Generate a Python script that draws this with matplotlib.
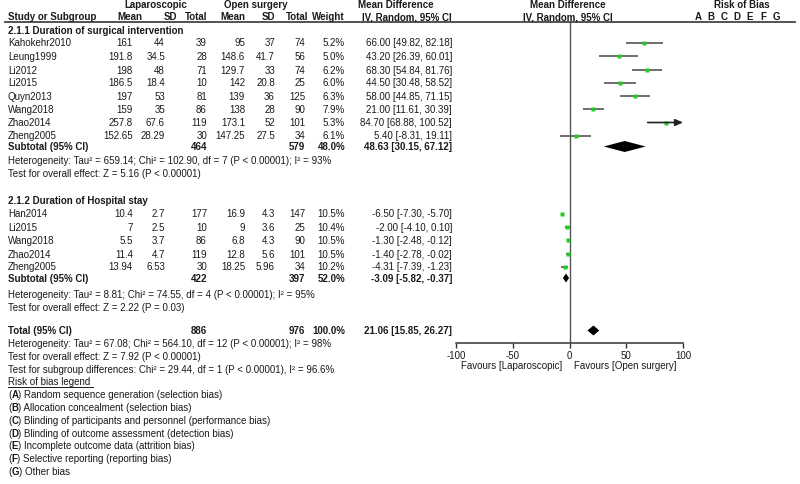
import matplotlib
matplotlib.use("Agg")
from matplotlib import pyplot as plt

plt.rcParams['font.family'] = ['Liberation Sans', 'DejaVu Sans']

# subgroup 2.1.1 duration of surgical intervention
studies1 = ["Kahokehr2010", "Leung1999", "Li2012", "Li2015", "Quyn2013", "Wang2018", "Zhao2014", "Zheng2005"]
lap_mean1 = [161, 191.8, 198, 186.5, 197, 159, 257.8, 152.65]
lap_sd1 = [44, 34.5, 48, 18.4, 53, 35, 67.6, 28.29]
lap_n1 = [39, 28, 71, 10, 81, 86, 119, 30]
open_mean1 = [95, 148.6, 129.7, 142, 139, 138, 173.1, 147.25]
open_sd1 = [37, 41.7, 33, 20.8, 36, 28, 52, 27.5]
open_n1 = [74, 56, 74, 25, 125, 90, 101, 34]
weight1 = [5.2, 5.0, 6.2, 6.0, 6.3, 7.9, 5.3, 6.1]
md1 = [66.00, 43.20, 68.30, 44.50, 58.00, 21.00, 84.70, 5.40]
lo1 = [49.82, 26.39, 54.84, 30.48, 44.85, 11.61, 68.88, -8.31]
hi1 = [82.18, 60.01, 81.76, 58.52, 71.15, 30.39, 100.52, 19.11]
sub1 = [48.63, 30.15, 67.12]
sub1_n = [464, 579]
sub1_w = 48.0

# subgroup 2.1.2 duration of hospital stay
studies2 = ["Han2014", "Li2015", "Wang2018", "Zhao2014", "Zheng2005"]
lap_mean2 = [10.4, 7, 5.5, 11.4, 13.94]
lap_sd2 = [2.7, 2.5, 3.7, 4.7, 6.53]
lap_n2 = [177, 10, 86, 119, 30]
open_mean2 = [16.9, 9, 6.8, 12.8, 18.25]
open_sd2 = [4.3, 3.6, 4.3, 5.6, 5.96]
open_n2 = [147, 25, 90, 101, 34]
weight2 = [10.5, 10.4, 10.5, 10.5, 10.2]
md2 = [-6.50, -2.00, -1.30, -1.40, -4.31]
lo2 = [-7.30, -4.10, -2.48, -2.78, -7.39]
hi2 = [-5.70, 0.10, -0.12, -0.02, -1.23]
sub2 = [-3.09, -5.82, -0.37]
sub2_n = [422, 397]
sub2_w = 52.0

total = [21.06, 15.85, 26.27]
total_n = [886, 976]
total_w = 100.0

stats1 = ["Heterogeneity: Tau\u00b2 = 659.14; Chi\u00b2 = 102.90, df = 7 (P < 0.00001); I\u00b2 = 93%",
          "Test for overall effect: Z = 5.16 (P < 0.00001)"]
stats2 = ["Heterogeneity: Tau\u00b2 = 8.81; Chi\u00b2 = 74.55, df = 4 (P < 0.00001); I\u00b2 = 95%",
          "Test for overall effect: Z = 2.22 (P = 0.03)"]
stats_total = ["Heterogeneity: Tau\u00b2 = 67.08; Chi\u00b2 = 564.10, df = 12 (P < 0.00001); I\u00b2 = 98%",
               "Test for overall effect: Z = 7.92 (P < 0.00001)",
               "Test for subgroup differences: Chi\u00b2 = 29.44, df = 1 (P < 0.00001), I\u00b2 = 96.6%"]
bias_letters = ["A", "B", "C", "D", "E", "F", "G"]
bias_legend = ["Random sequence generation (selection bias)",
               "Allocation concealment (selection bias)",
               "Blinding of participants and personnel (performance bias)",
               "Blinding of outcome assessment (detection bias)",
               "Incomplete outcome data (attrition bias)",
               "Selective reporting (reporting bias)",
               "Other bias"]
xticks = [-100, -50, 0, 50, 100]

# layout (pixel rows)
W, H = 800, 485
rows1 = [43.5, 57, 70.5, 83.5, 97, 110, 123.5, 136.5]
rows2 = [214.5, 228, 241, 254.5, 267.5]
FS = 7
TC = '#1a1a1a'

fig = plt.figure(figsize=(W / 100, H / 100), dpi=100)
bg = fig.add_axes([0, 0, 1, 1])
bg.set_xlim(0, W)
bg.set_ylim(H, 0)
bg.axis('off')


def t(x, y, s, ha='left', bold=False, **kw):
    return bg.text(x, y, s, ha=ha, va='center', fontsize=FS, color=TC,
                   fontweight='bold' if bold else 'normal', **kw)


def after(prev, s, bold=False):
    # continue a line right after the previous text piece
    return bg.annotate(s, xy=(1, 0), xycoords=prev, ha='left', va='bottom',
                       fontsize=FS, color=TC, fontweight='bold' if bold else 'normal')


def fmt(v):
    return '{:g}'.format(v)


def ci(m, l, h):
    return '{:.2f} [{:.2f}, {:.2f}]'.format(m, l, h)


# header
t(156, 4.5, "Laparoscopic", ha='center', bold=True)
t(256, 4.5, "Open surgery", ha='center', bold=True)
t(396, 4.5, "Mean Difference", ha='center', bold=True)
t(568, 4.5, "Mean Difference", ha='center', bold=True)
t(742, 4.5, "Risk of Bias", ha='center', bold=True)
t(8, 17, "Study or Subgroup", bold=True)
for x, s in zip([142, 177, 207, 245, 275, 308, 345], ["Mean", "SD", "Total", "Mean", "SD", "Total", "Weight"]):
    t(x, 17, s, ha='right', bold=True)
t(452, 17, "IV, Random, 95% CI", ha='right', bold=True)
t(568, 17, "IV, Random, 95% CI", ha='center', bold=True)
for i, c in enumerate(bias_letters):
    t(698 + i * 13, 17, c, ha='center', bold=True)
bg.plot([5, 795], [22.5, 22.5], color='#444444', lw=1.3)

cols = [133, 165, 207, 245, 275, 305, 345]


def study_rows(rows, names, a, b, c, d, e, f, w, m, l, h):
    for i, y in enumerate(rows):
        t(8, y, names[i])
        vals = [fmt(a[i]), fmt(b[i]), str(c[i]), fmt(d[i]), fmt(e[i]), str(f[i]), '{:.1f}%'.format(w[i])]
        for x, s in zip(cols, vals):
            t(x, y, s, ha='right')
        t(452, y, ci(m[i], l[i], h[i]), ha='right')


def summary_row(y, label, n, w, est):
    t(8, y, label, bold=True)
    t(207, y, str(n[0]), ha='right', bold=True)
    t(305, y, str(n[1]), ha='right', bold=True)
    t(345, y, '{:.1f}%'.format(w), ha='right', bold=True)
    t(452, y, ci(*est), ha='right', bold=True)


t(8, 31, "2.1.1 Duration of surgical intervention", bold=True)
study_rows(rows1, studies1, lap_mean1, lap_sd1, lap_n1, open_mean1, open_sd1, open_n1, weight1, md1, lo1, hi1)
summary_row(147.5, "Subtotal (95% CI)", sub1_n, sub1_w, sub1)
t(8, 161.5, stats1[0])
t(8, 174.5, stats1[1])

t(8, 201, "2.1.2 Duration of Hospital stay", bold=True)
study_rows(rows2, studies2, lap_mean2, lap_sd2, lap_n2, open_mean2, open_sd2, open_n2, weight2, md2, lo2, hi2)
summary_row(279, "Subtotal (95% CI)", sub2_n, sub2_w, sub2)
t(8, 295, stats2[0])
t(8, 308, stats2[1])

summary_row(331.5, "Total (95% CI)", total_n, total_w, total)
for i, s in enumerate(stats_total):
    t(8, 344 + i * 12.8, s)

leg = t(8, 382.5, "Risk of bias legend ")
for i, (c, s) in enumerate(zip(bias_letters, bias_legend)):
    p = t(8, 395.5 + i * 12.7, "(")
    p = after(p, c, bold=True)
    after(p, ") " + s)

t(512, 366, "Favours [Laparoscopic]", ha='center')
t(625, 366, "Favours [Open surgery]", ha='center')

# forest panel
x0, x1, ytop, ybot = 456, 683, 22.5, 344
ax = fig.add_axes([x0 / W, (H - ybot) / H, (x1 - x0) / W, (ybot - ytop) / H])
ax.set_xlim(-100, 100)
ax.set_ylim(ybot, ytop)
ax.patch.set_alpha(0)
for s in ['top', 'left', 'right']:
    ax.spines[s].set_visible(False)
ax.spines['bottom'].set_color('#333333')
ax.spines['bottom'].set_linewidth(1.1)
ax.set_yticks([])
ax.set_xticks(xticks)
ax.set_xticklabels([str(v) for v in xticks])
ax.tick_params(axis='x', direction='out', length=3.5, width=1, color='#333333',
               labelsize=FS, labelcolor=TC, pad=1.5)
ax.axvline(0, color='#555555', lw=1)


def forest(rows, m, l, h, w):
    for i, y in enumerate(rows):
        if h[i] > 100:
            ax.annotate('', xy=(100, y), xytext=(l[i], y),
                        arrowprops=dict(arrowstyle='-|>,head_length=0.45,head_width=0.2',
                                        color='#222222', lw=1.2, shrinkA=0, shrinkB=0))
        else:
            ax.plot([l[i], h[i]], [y, y], color='#555555', lw=1.2, solid_capstyle='butt')
        ax.plot(m[i], y, marker='s', ms=1.05 * w[i] ** 0.5, color='#22cc22',
                mec='none', ls='none')


def diamond(y, est, lo, hi, hh=5):
    ax.fill([lo, est, hi, est], [y, y - hh, y, y + hh], color='black', lw=0)


forest(rows1, md1, lo1, hi1, weight1)
forest(rows2, md2, lo2, hi2, weight2)
diamond(147.5, *sub1, hh=5.5)
diamond(279, *sub2, hh=4.5)
diamond(331.5, *total, hh=5)

# underline for legend title
fig.canvas.draw()
bb = leg.get_window_extent().transformed(bg.transData.inverted())
bg.plot([bb.x0, bb.x1], [388, 388], color=TC, lw=0.7)

fig.savefig('out.png', dpi=100)
